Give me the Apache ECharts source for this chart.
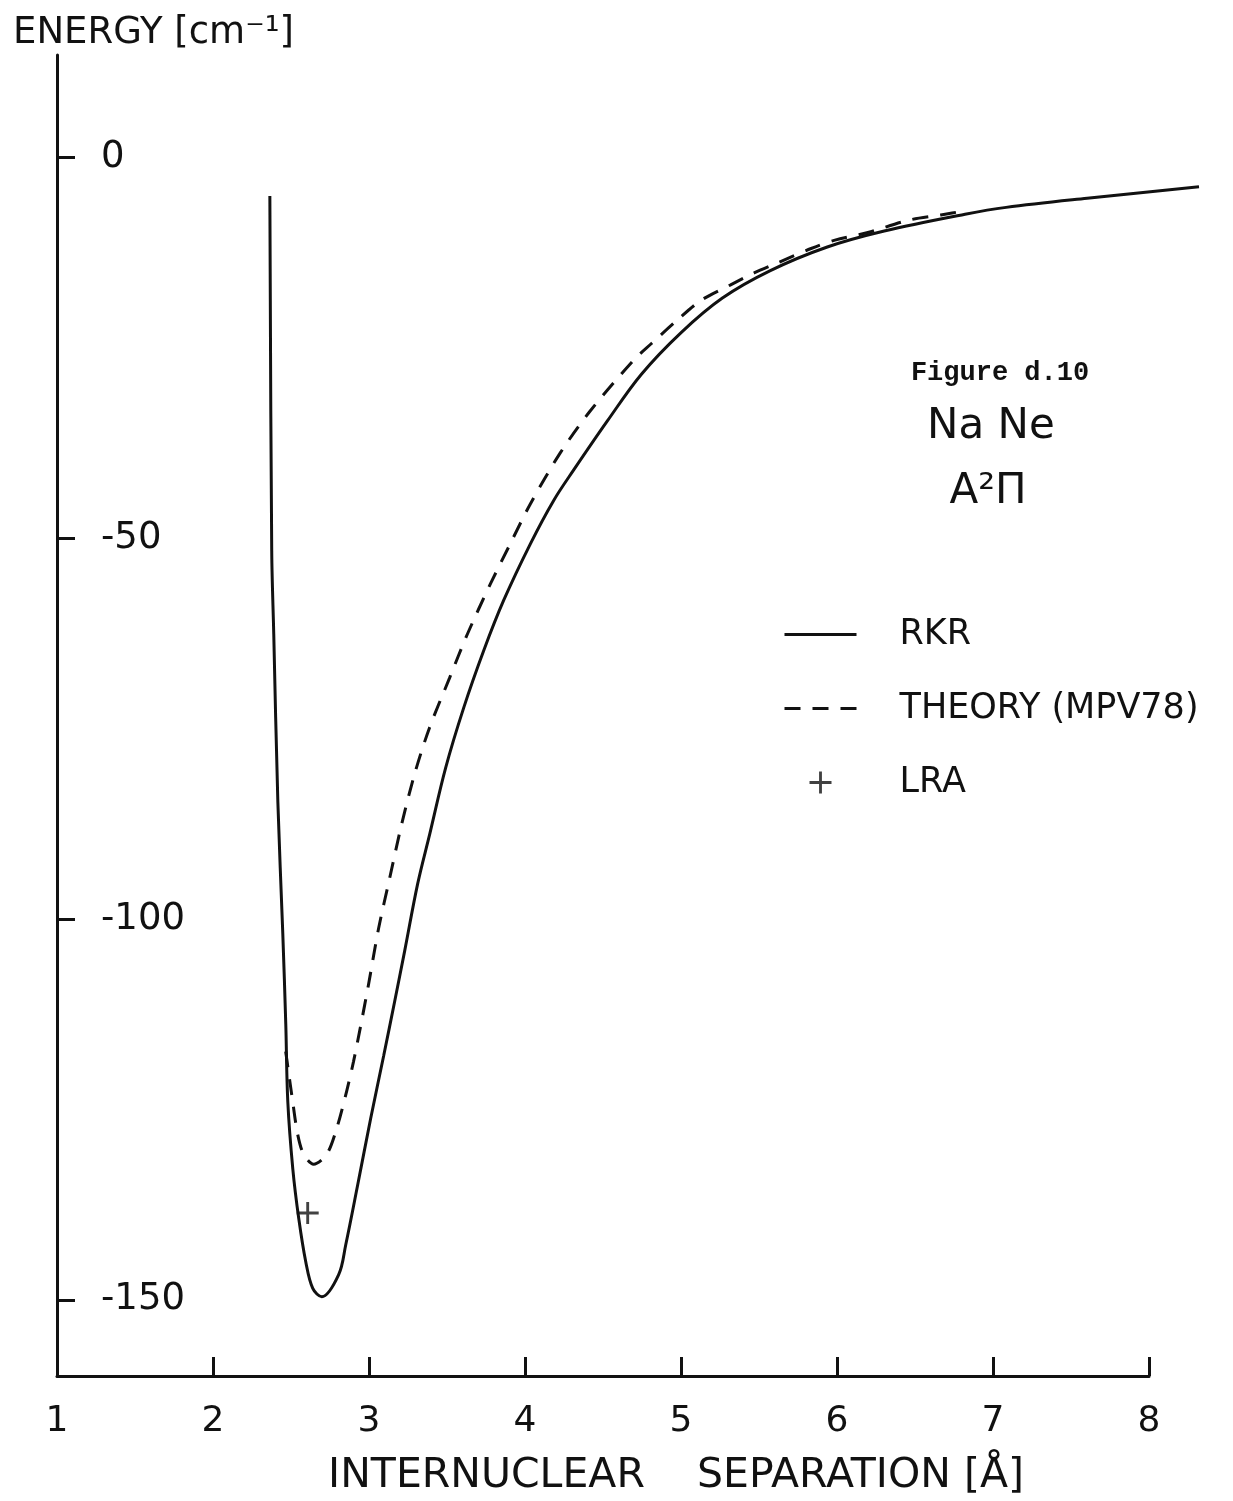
<!DOCTYPE html>
<html>
<head>
<meta charset="utf-8">
<script src="https://cdn.jsdelivr.net/npm/echarts@6/dist/echarts.min.js"></script>
<style>
  html, body { margin: 0; padding: 0; background: #fff; }
  #chart { width: 1233px; height: 1501px; }
</style>
</head>
<body>
<div id="chart"></div>
<script>
// RKR curve (solid): internuclear separation [A] and energy [cm-1]
var rkrR = [2.364, 2.376, 2.389, 2.415, 2.447, 2.466, 2.479, 2.511, 2.549, 2.594, 2.639, 2.697,
            2.805, 2.850, 2.927, 3.010, 3.093, 3.164, 3.228, 3.311, 3.388, 3.490, 3.606, 3.734,
            3.862, 4.035, 4.182, 4.310, 4.528, 4.745, 5.001, 5.264, 5.571, 5.936, 6.301, 6.819,
            7.082, 7.601, 8.318];
var rkrE = [-5.1, -51.7, -62.6, -84.5, -102.0, -113.8, -124.0, -132.8, -139.3, -145.0, -148.5, -149.6,
            -146.7, -142.8, -134.9, -126.2, -118.0, -110.8, -104.2, -95.4, -88.9, -80.2, -72.3, -64.8,
            -58.2, -50.7, -45.1, -41.1, -34.6, -28.5, -23.0, -18.5, -14.9, -11.8, -9.7, -7.5,
            -6.6, -5.4, -3.9];

// THEORY (MPV78) curve (dashed)
var theoryR = [2.466, 2.511, 2.543, 2.581, 2.645, 2.729, 2.793, 2.857, 2.901, 2.946, 2.997, 3.062,
               3.132, 3.209, 3.292, 3.388, 3.516, 3.631, 3.779, 3.907, 4.035, 4.227, 4.419, 4.694,
               4.809, 4.976, 5.129, 5.315, 5.469, 5.629, 5.834, 5.987, 6.198, 6.455, 6.666, 6.832];
var theoryE = [-117.4, -124.0, -128.3, -130.9, -132.2, -130.9, -127.5, -122.6, -118.7, -114.1, -108.6, -101.2,
               -94.7, -87.6, -81.0, -74.9, -68.4, -62.6, -56.0, -50.7, -45.5, -38.8, -33.3, -26.7,
               -24.5, -21.4, -18.8, -16.8, -15.2, -13.8, -12.0, -10.9, -9.9, -8.3, -7.6, -7.0];

// LRA point
var lraR = [2.607];
var lraE = [-138.6];

var yTicks = [-150, -100, -50, 0];

function pairs(xs, ys) {
  return xs.map(function (x, i) { return [x, ys[i]]; });
}

var font = 'DejaVu Sans';
var ink = '#111';

// the RKR curve runs a little past the last tick (8), so it sits on a
// second, hidden grid with the same scale but a longer x range
var chart = echarts.init(document.getElementById('chart'));
var option = {
  animation: false,
  backgroundColor: '#fff',
  title: [
    { text: 'ENERGY [cm\u207B\u00B9]', left: 8, top: 10,
      textStyle: { fontFamily: font, fontSize: 37, fontWeight: 'normal', color: ink } },
    { text: 'Figure d.10', left: 995, top: 355, textAlign: 'center',
      textStyle: { fontFamily: 'Liberation Mono', fontSize: 27, fontWeight: 'bold', color: ink } },
    { text: 'Na Ne', left: 986, top: 401, textAlign: 'center',
      textStyle: { fontFamily: font, fontSize: 42, fontWeight: 'normal', color: ink } },
    { text: 'A\u00B2\u03A0', left: 983, top: 466, textAlign: 'center',
      textStyle: { fontFamily: font, fontSize: 42, fontWeight: 'normal', color: ink } }
  ],
  legend: {
    orient: 'vertical',
    left: 778,
    top: 612,
    itemWidth: 72,
    itemHeight: 22,
    itemGap: 39,
    textStyle: { fontFamily: font, fontSize: 35, color: ink, padding: [0, 0, 0, 38] },
    data: [
      { name: 'RKR', itemStyle: { opacity: 0 }, lineStyle: { width: 3 } },
      { name: 'THEORY (MPV78)', itemStyle: { opacity: 0 }, lineStyle: { width: 3 } },
      { name: 'LRA' }
    ]
  },
  grid: [
    { left: 57, right: 84, top: 55, bottom: 125, outerBoundsMode: 'none' },
    { left: 57, right: 29, top: 55, bottom: 125, outerBoundsMode: 'none' }
  ],
  xAxis: [
    {
      type: 'value',
      gridIndex: 0,
      min: 1,
      max: 8,
      interval: 1,
      splitLine: { show: false },
      axisLine: { onZero: false, lineStyle: { color: ink, width: 3 } },
      axisTick: { inside: true, length: 19, lineStyle: { color: ink, width: 3 } },
      axisLabel: { margin: 28, fontFamily: font, fontSize: 36, color: ink },
      name: 'INTERNUCLEAR    SEPARATION [\u00C5]',
      nameLocation: 'middle',
      nameGap: 80,
      nameTextStyle: { fontFamily: font, fontSize: 41, color: ink, padding: [0, 0, 0, 146] }
    },
    {
      type: 'value',
      gridIndex: 1,
      min: 1,
      max: 8.35,
      show: false
    }
  ],
  yAxis: [
    {
      type: 'value',
      gridIndex: 0,
      min: -160,
      max: 13.4,
      splitLine: { show: false },
      axisLine: { lineStyle: { color: ink, width: 3 } },
      axisTick: { inside: true, length: 18, customValues: yTicks, lineStyle: { color: ink, width: 3 } },
      axisLabel: { inside: true, margin: 44, customValues: yTicks, fontFamily: font, fontSize: 37, color: ink }
    },
    {
      type: 'value',
      gridIndex: 1,
      min: -160,
      max: 13.4,
      show: false
    }
  ],
  series: [
    {
      name: 'RKR',
      type: 'line',
      xAxisIndex: 1,
      yAxisIndex: 1,
      data: pairs(rkrR, rkrE),
      symbol: 'none',
      smooth: 0.35,
      color: ink,
      lineStyle: { color: ink, width: 3 }
    },
    {
      name: 'THEORY (MPV78)',
      type: 'line',
      data: pairs(theoryR, theoryE),
      symbol: 'none',
      smooth: 0.3,
      color: ink,
      lineStyle: { color: ink, width: 3, type: [16, 12] }
    },
    {
      name: 'LRA',
      type: 'scatter',
      data: pairs(lraR, lraE),
      symbol: 'path://M0,8.7h20v2.6h-20zM8.7,0h2.6v20h-2.6z',
      symbolSize: 22,
      color: ink,
      itemStyle: { color: ink }
    }
  ]
};
chart.setOption(option);
</script>
</body>
</html>
